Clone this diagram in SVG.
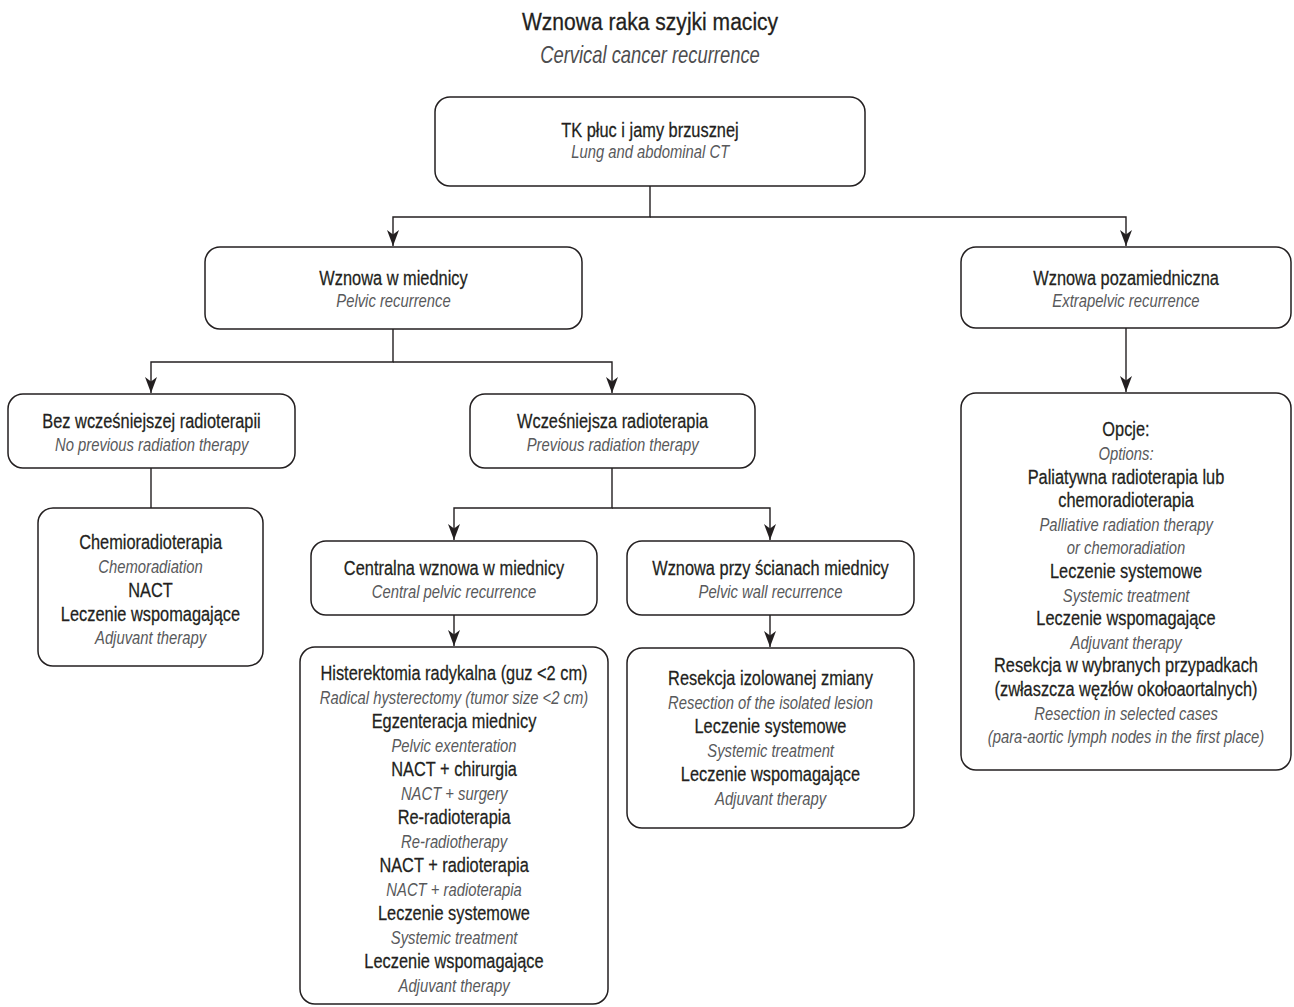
<svg xmlns="http://www.w3.org/2000/svg" width="1294" height="1007" viewBox="0 0 1294 1007">
<style>
text{text-anchor:middle;transform-box:fill-box;transform-origin:center}
.t{font-family:"Liberation Sans",Arial,sans-serif;font-size:24.5px;fill:#231f20;stroke:#231f20;stroke-width:0.3;transform:scaleX(0.86)}
.ts{font-family:"Liberation Sans",Arial,sans-serif;font-size:23px;font-style:italic;fill:#4d4d4f;transform:scaleX(0.8)}
.b{font-family:"Liberation Sans",Arial,sans-serif;font-size:19.5px;fill:#231f20;stroke:#231f20;stroke-width:0.25;transform:scaleX(0.84)}
.i{font-family:"Liberation Sans",Arial,sans-serif;font-size:19px;font-style:italic;fill:#58595b;transform:scaleX(0.78)}
.box{fill:#fff;stroke:#231f20;stroke-width:1.5}
.c{fill:none;stroke:#231f20;stroke-width:1.4}
.a{marker-end:url(#arr)}
</style>
<defs>
<marker id="arr" markerUnits="userSpaceOnUse" markerWidth="20" markerHeight="14" viewBox="-17 -7 18 14" refX="0" refY="0" orient="auto">
<path d="M0,0 L-16,-6 L-11.5,0 L-16,6 Z" fill="#231f20"/>
</marker>
</defs>

<g id="title">
<text class="t" x="650" y="30">Wznowa raka szyjki macicy</text>
<text class="ts" x="650" y="63">Cervical cancer recurrence</text>
</g>

<g id="connectors">
<path class="c a" d="M650,186 V217 H393 V246"/>
<path class="c a" d="M650,217 H1126 V246"/>
<path class="c a" d="M393,329 V362 H151 V393"/>
<path class="c a" d="M393,362 H612 V393"/>
<path class="c" d="M151,468 V508"/>
<path class="c a" d="M612,468 V508 H454 V540"/>
<path class="c a" d="M612,508 H770 V540"/>
<path class="c a" d="M454,615 V646"/>
<path class="c a" d="M770,615 V647"/>
<path class="c a" d="M1126,328 V392"/>
</g>

<g id="n_tk">
<rect class="box" x="435" y="97" width="430" height="89" rx="15"/>
<text class="b" x="650" y="137">TK płuc i jamy brzusznej</text>
<text class="i" x="650" y="158">Lung and abdominal CT</text>
</g>

<g id="n_pelvic">
<rect class="box" x="205" y="247" width="377" height="82" rx="15"/>
<text class="b" x="393.5" y="285">Wznowa w miednicy</text>
<text class="i" x="393.5" y="307">Pelvic recurrence</text>
</g>

<g id="n_extrapelvic">
<rect class="box" x="961" y="247" width="330" height="81" rx="15"/>
<text class="b" x="1126" y="285">Wznowa pozamiedniczna</text>
<text class="i" x="1126" y="307">Extrapelvic recurrence</text>
</g>

<g id="n_noprev">
<rect class="box" x="8" y="394" width="287" height="74" rx="15"/>
<text class="b" x="151.5" y="428">Bez wcześniejszej radioterapii</text>
<text class="i" x="151.5" y="451">No previous radiation therapy</text>
</g>

<g id="n_prev">
<rect class="box" x="470" y="394" width="285" height="74" rx="15"/>
<text class="b" x="612.5" y="428">Wcześniejsza radioterapia</text>
<text class="i" x="612.5" y="451">Previous radiation therapy</text>
</g>

<g id="n_chemo">
<rect class="box" x="38" y="508" width="225" height="158" rx="15"/>
<text class="b" x="150.5" y="549">Chemioradioterapia</text>
<text class="i" x="150.5" y="573">Chemoradiation</text>
<text class="b" x="150.5" y="597">NACT</text>
<text class="b" x="150.5" y="621">Leczenie wspomagające</text>
<text class="i" x="150.5" y="644">Adjuvant therapy</text>
</g>

<g id="n_central">
<rect class="box" x="311" y="541" width="286" height="74" rx="15"/>
<text class="b" x="454" y="575">Centralna wznowa w miednicy</text>
<text class="i" x="454" y="598">Central pelvic recurrence</text>
</g>

<g id="n_wall">
<rect class="box" x="627" y="541" width="287" height="74" rx="15"/>
<text class="b" x="770.5" y="575">Wznowa przy ścianach miednicy</text>
<text class="i" x="770.5" y="598">Pelvic wall recurrence</text>
</g>

<g id="n_central_tx">
<rect class="box" x="300" y="647" width="308" height="357" rx="15"/>
<text class="b" x="454" y="680">Histerektomia radykalna (guz &lt;2 cm)</text>
<text class="i" x="454" y="704">Radical hysterectomy (tumor size &lt;2 cm)</text>
<text class="b" x="454" y="728">Egzenteracja miednicy</text>
<text class="i" x="454" y="752">Pelvic exenteration</text>
<text class="b" x="454" y="776">NACT + chirurgia</text>
<text class="i" x="454" y="800">NACT + surgery</text>
<text class="b" x="454" y="824">Re-radioterapia</text>
<text class="i" x="454" y="848">Re-radiotherapy</text>
<text class="b" x="454" y="872">NACT + radioterapia</text>
<text class="i" x="454" y="896">NACT + radioterapia</text>
<text class="b" x="454" y="920">Leczenie systemowe</text>
<text class="i" x="454" y="944">Systemic treatment</text>
<text class="b" x="454" y="968">Leczenie wspomagające</text>
<text class="i" x="454" y="992">Adjuvant therapy</text>
</g>

<g id="n_wall_tx">
<rect class="box" x="627" y="648" width="287" height="180" rx="15"/>
<text class="b" x="770.5" y="685">Resekcja izolowanej zmiany</text>
<text class="i" x="770.5" y="709">Resection of the isolated lesion</text>
<text class="b" x="770.5" y="733">Leczenie systemowe</text>
<text class="i" x="770.5" y="757">Systemic treatment</text>
<text class="b" x="770.5" y="781">Leczenie wspomagające</text>
<text class="i" x="770.5" y="805">Adjuvant therapy</text>
</g>

<g id="n_options">
<rect class="box" x="961" y="393" width="330" height="377" rx="15"/>
<text class="b" x="1126" y="436.5">Opcje:</text>
<text class="i" x="1126" y="460.1">Options:</text>
<text class="b" x="1126" y="483.7">Paliatywna radioterapia lub</text>
<text class="b" x="1126" y="507.3">chemoradioterapia</text>
<text class="i" x="1126" y="530.9">Palliative radiation therapy</text>
<text class="i" x="1126" y="554.5">or chemoradiation</text>
<text class="b" x="1126" y="578.1">Leczenie systemowe</text>
<text class="i" x="1126" y="601.7">Systemic treatment</text>
<text class="b" x="1126" y="625.3">Leczenie wspomagające</text>
<text class="i" x="1126" y="648.9">Adjuvant therapy</text>
<text class="b" x="1126" y="672.5">Resekcja w wybranych przypadkach</text>
<text class="b" x="1126" y="696.1">(zwłaszcza węzłów okołoaortalnych)</text>
<text class="i" x="1126" y="719.7">Resection in selected cases</text>
<text class="i" x="1126" y="743.3">(para-aortic lymph nodes in the first place)</text>
</g>
</svg>
